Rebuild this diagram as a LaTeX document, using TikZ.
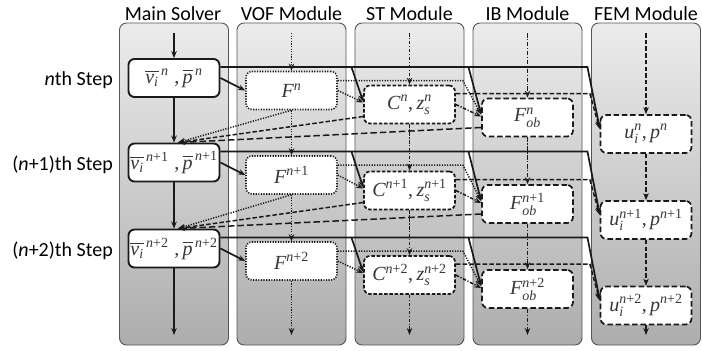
\documentclass[tikz,border=0pt]{standalone}
\usepackage{amsmath}
\usepackage{fontspec}
\setmainfont{Carlito}
\newfontfamily\tnr{Liberation Serif}
\usetikzlibrary{arrows.meta,calc}
\newcommand{\ti}[1]{\text{\tnr\itshape #1}}
\newcommand{\tu}[1]{\text{\tnr #1}}
\definecolor{ln}{HTML}{1A1A1A}
\definecolor{pantop}{HTML}{ECECEC}
\definecolor{panbot}{HTML}{ADADAD}
\definecolor{panedge}{HTML}{555555}
\definecolor{txt}{HTML}{383838}
\tikzset{
  panel/.style={rounded corners=7pt, draw=panedge, line width=0.9pt, top color=pantop, bottom color=panbot},
  box/.style={rounded corners=6pt, fill=white, minimum width=91pt, minimum height=38pt, inner sep=0pt,
    line width=1.7pt, draw=ln, text=txt, font=\fontsize{20}{24}\selectfont},
  mainbox/.style={box, solid, line width=1.9pt},
  vofbox/.style={box, line width=1.6pt, dash pattern=on 1.2pt off 1.4pt},
  stbox/.style={box, dash pattern=on 3.5pt off 1.8pt},
  ibbox/.style={box, dash pattern=on 5.5pt off 2.8pt},
  fembox/.style={box, dash pattern=on 5.5pt off 2.8pt},
  hdr/.style={anchor=base, font=\fontsize{20}{24}\selectfont, inner sep=0pt},
  stp/.style={anchor=base east, font=\fontsize{20}{24}\selectfont, inner sep=0pt},
  arr/.style={-{Stealth[length=7pt,width=5.5pt]}, line width=1.5pt, draw=ln},
  sol/.style={solid, line width=1.7pt},
  dotl/.style={dash pattern=on 1.2pt off 1.4pt},
  dashdotl/.style={dash pattern=on 3.5pt off 1.6pt on 1.2pt off 1.6pt},
  ibl/.style={dash pattern=on 4.5pt off 1.6pt on 1.2pt off 1.6pt},
  dashl/.style={dash pattern=on 4.5pt off 2.2pt},
  dashll/.style={dash pattern=on 6.5pt off 3pt},
}
\begin{document}
\begin{tikzpicture}[x=1pt,y=-1pt]
\useasboundingbox (0,0) rectangle (702,351);
\fill[white] (0,0) rectangle (702,351);
% panels
\draw[panel] (119.5,23) rectangle (228.5,345);
\draw[panel] (237,23) rectangle (346,345);
\draw[panel] (355,23) rectangle (464,345);
\draw[panel] (473,23) rectangle (582,345);
\draw[panel] (591.5,23) rectangle (700.5,345);
% headers
\node[hdr] (h1) at (173,20) {Main Solver};
\node[hdr] (h2) at (291.5,20) {VOF Module};
\node[hdr] (h3) at (409.5,20) {ST Module};
\node[hdr] (h4) at (527.5,20) {IB Module};
\node[hdr] (h5) at (646,20) {FEM Module};
% step labels
\node[stp] (s1) at (113,85) {\textit{n}th Step};
\node[stp] (s2) at (113,170) {(\textit{n}+1)th Step};
\node[stp] (s3) at (113,256) {(\textit{n}+2)th Step};
% boxes
\node[mainbox] (M1) at (174,78) {$\overline{\ti{v}_{\ti{i}}}^{\,\ti{n}}\;\tu{,}\,\overline{\ti{p}}^{\,\ti{n}}$};
\node[mainbox] (M2) at (174,162.5) {$\overline{\ti{v}_{\ti{i}}}^{\,\ti{n}\tu{+1}}\;\tu{,}\,\overline{\ti{p}}^{\,\ti{n}\tu{+1}}$};
\node[mainbox] (M3) at (174,248.5) {$\overline{\ti{v}_{\ti{i}}}^{\,\ti{n}\tu{+2}}\;\tu{,}\,\overline{\ti{p}}^{\,\ti{n}\tu{+2}}$};
\node[vofbox] (V1) at (291.5,90.5) {$\ti{F}^{\ti{n}}$};
\node[vofbox] (V2) at (291.5,175) {$\ti{F}^{\ti{n}\tu{+1}}$};
\node[vofbox] (V3) at (291.5,261) {$\ti{F}^{\ti{n}\tu{+2}}$};
\node[stbox] (S1) at (409.5,104.5) {$\ti{C}^{\ti{n}}\tu{,}\,\ti{z}^{\ti{n}}_{\ti{s}}$};
\node[stbox] (S2) at (409.5,190.5) {$\ti{C}^{\ti{n}\tu{+1}}\tu{,}\,\ti{z}^{\ti{n}\tu{+1}}_{\ti{s}}$};
\node[stbox] (S3) at (409.5,275) {$\ti{C}^{\ti{n}\tu{+2}}\tu{,}\,\ti{z}^{\ti{n}\tu{+2}}_{\ti{s}}$};
\node[ibbox] (I1) at (527.5,117.5) {$\ti{F}^{\ti{n}}_{\ti{ob}}$};
\node[ibbox] (I2) at (527.5,204) {$\ti{F}^{\ti{n}\tu{+1}}_{\ti{ob}}$};
\node[ibbox] (I3) at (527.5,289) {$\ti{F}^{\ti{n}\tu{+2}}_{\ti{ob}}$};
\node[fembox] (E1) at (646,134) {$\ti{u}^{\ti{n}}_{\ti{i}}\tu{,}\,\ti{p}^{\ti{n}}$};
\node[fembox] (E2) at (646,220) {$\ti{u}^{\ti{n}\tu{+1}}_{\ti{i}}\tu{,}\,\ti{p}^{\ti{n}\tu{+1}}$};
\node[fembox] (E3) at (646,305.5) {$\ti{u}^{\ti{n}\tu{+2}}_{\ti{i}}\tu{,}\,\ti{p}^{\ti{n}\tu{+2}}$};
% top / bottom free ends
\coordinate (Mt) at (174,33);   \coordinate (Mb) at (174,335);
\coordinate (Vt) at (291.5,33); \coordinate (Vb) at (291.5,335);
\coordinate (St) at (409.5,33); \coordinate (Sb) at (409.5,335);
\coordinate (It) at (527.5,33); \coordinate (Ib) at (527.5,335);
\coordinate (Et) at (646,33);   \coordinate (Eb) at (646,335);
% vertical arrows
\draw[arr,sol] (Mt) -- (M1.north);
\draw[arr,sol] (M1.south) -- (M2.north);
\draw[arr,sol] (M2.south) -- (M3.north);
\draw[arr,sol] (M3.south) -- (Mb);
\draw[arr,dotl] (Vt) -- (V1.north);
\draw[arr,dotl] (V1.south) -- (V2.north);
\draw[arr,dotl] (V2.south) -- (V3.north);
\draw[arr,dotl] (V3.south) -- (Vb);
\draw[arr,dashdotl] (St) -- (S1.north);
\draw[arr,dashdotl] (S1.south) -- (S2.north);
\draw[arr,dashdotl] (S2.south) -- (S3.north);
\draw[arr,dashdotl] (S3.south) -- (Sb);
\draw[arr,ibl] (It) -- (I1.north);
\draw[arr,ibl] (I1.south) -- (I2.north);
\draw[arr,ibl] (I2.south) -- (I3.north);
\draw[arr,ibl] (I3.south) -- (Ib);
\draw[arr,dashl] (Et) -- (E1.north);
\draw[arr,dashl] (E1.south) -- (E2.north);
\draw[arr,dashl] (E2.south) -- (E3.north);
\draw[arr,dashl] (E3.south) -- (Eb);
% row connectors
\foreach \k in {1,2,3}{
  \draw[arr,sol] (M\k.east) -- (V\k.west);
  \draw[arr,sol] ($(M\k.east)+(0,-11)$) -- ++(367,0) -- ($(E\k.west)+(0,-6)$);
  \draw[arr,sol] ($(M\k.east)+(131,-11)$) -- ($(S\k.west)+(0,-3)$);
  \draw[arr,sol] ($(M\k.east)+(248,-11)$) -- ($(I\k.west)+(0,-3)$);
  \draw[arr,dotl] (V\k.east) -- ($(S\k.west)+(0,-2)$);
  \draw[arr,dotl] ($(V\k.east)+(0,-10)$) -- ++(125,0) -- ($(I\k.west)+(0,-3)$);
  \draw[arr,dashdotl] (S\k.east) -- ($(I\k.west)+(0,-1)$);
  \draw[arr,dashl] ($(S\k.east)+(0,-11)$) -- ++(134,0) -- ($(E\k.west)+(0,-5)$);
}
% feedback to next main step
\foreach \k/\kk in {1/2,2/3}{
  \draw[arr,dotl] (V\k.south) -- ($(M\kk.north)+(4,0)$);
  \draw[arr,dashl] ($(S\k.west)+(0,12)$) -- ($(M\kk.north)+(4,0)$);
  \draw[arr,dashll] ($(I\k.west)+(0,10)$) -- ($(M\kk.north)+(4,0)$);
}
\end{tikzpicture}
\end{document}
